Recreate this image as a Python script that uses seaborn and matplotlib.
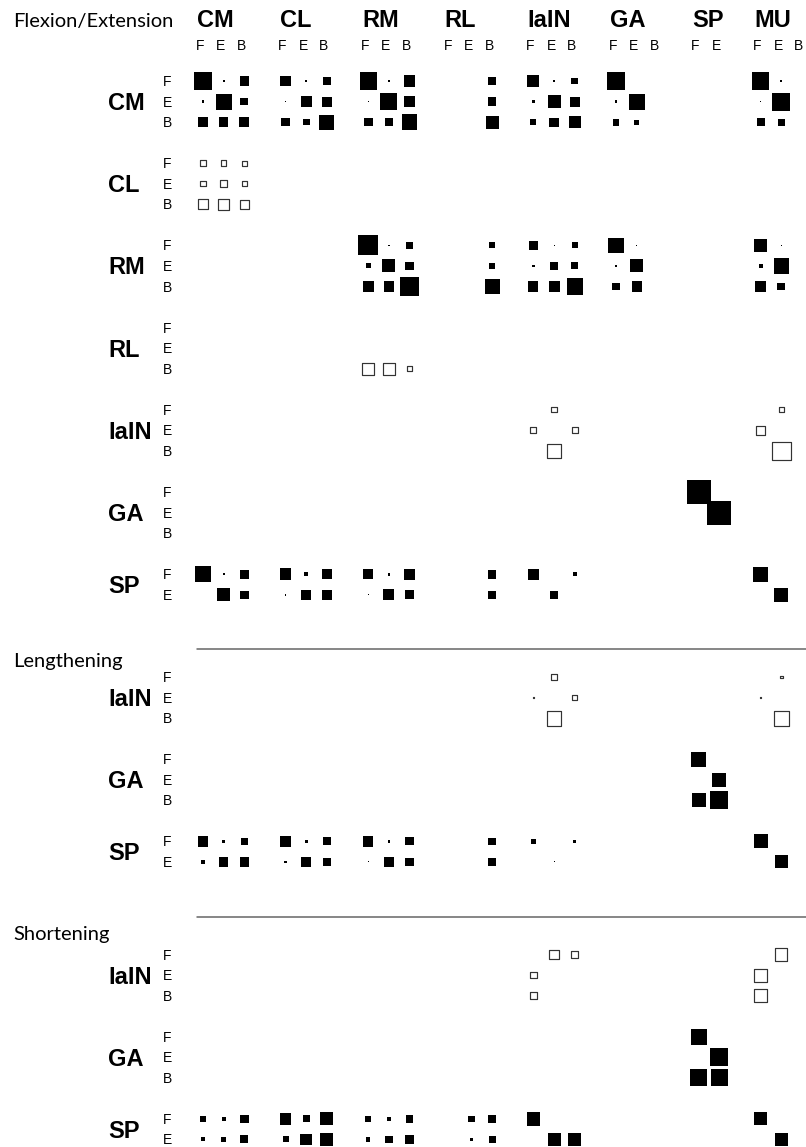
import pandas as pd
import matplotlib.pyplot as plt
import seaborn as sns

sns.set_theme(style="white")
plt.rcParams["text.color"] = "black"

# muscles along the top (targets) and their phase columns
muscles = ["CM", "CL", "RM", "RL", "IaIN", "GA", "SP", "MU"]
phases = {"CM": "FEB", "CL": "FEB", "RM": "FEB", "RL": "FEB",
          "IaIN": "FEB", "GA": "FEB", "SP": "FE", "MU": "FEB"}

# weights: >0 filled square, <0 open square; rows = source phase, cols = target phase
flex_CM = {
    "CM": [[.72, .08, .39], [.12, .67, .32], [.45, .39, .43]],
    "CL": [[.45, .08, .35], [.07, .46, .42], [.35, .28, .63]],
    "RM": [[.72, .07, .47], [.04, .70, .47], [.36, .35, .64]],
    "RL": [[0, 0, .36], [0, 0, .36], [0, 0, .54]],
    "IaIN": [[.50, .08, .28], [.12, .54, .42], [.25, .38, .50]],
    "GA": [[.75, .04, 0], [.12, .67, 0], [.29, .21, 0]],
    "MU": [[.71, .08, 0], [.04, .75, 0], [.33, .29, 0]],
}
flex_CL = {
    "CM": [[-.27, -.23, -.22], [-.22, -.29, -.22], [-.42, -.47, -.38]],
}
flex_RM = {
    "RM": [[.83, .07, .32], [.21, .54, .35], [.46, .42, .79]],
    "RL": [[0, 0, .25], [0, 0, .25], [0, 0, .63]],
    "IaIN": [[.38, .04, .25], [.12, .33, .29], [.42, .46, .67]],
    "GA": [[.63, .04, 0], [.12, .54, 0], [.33, .42, 0]],
    "MU": [[.54, .04, 0], [.17, .63, 0], [.46, .33, 0]],
}
flex_RL = {
    "RM": [[0, 0, 0], [0, 0, 0], [-.50, -.50, -.21]],
}
flex_IaIN = {
    "IaIN": [[0, -.22, 0], [-.25, 0, -.25], [0, -.57, 0]],
    "MU": [[0, -.21, 0], [-.38, 0, 0], [0, -.78, 0]],
}
flex_GA = {
    "SP": [[1.0, 0], [0, 1.0], [0, 0]],
}
flex_SP = {
    "CM": [[.68, .08, .38], [.04, .54, .35]],
    "CL": [[.49, .15, .42], [.07, .43, .42]],
    "RM": [[.43, .11, .45], [.04, .45, .38]],
    "RL": [[0, 0, .36], [0, 0, .33]],
    "IaIN": [[.46, 0, .17], [0, .33, 0]],
    "MU": [[.63, 0, 0], [0, .58, 0]],
}

len_IaIN = {
    "IaIN": [[0, -.24, 0], [-.05, 0, -.19], [0, -.62, 0]],
    "MU": [[0, -.12, 0], [-.05, 0, 0], [0, -.62, 0]],
}
len_GA = {
    "SP": [[.63, 0], [0, .58], [.58, .75]],
}
len_SP = {
    "CM": [[.43, .12, .27], [.17, .39, .39]],
    "CL": [[.43, .12, .34], [.11, .43, .34]],
    "RM": [[.43, .10, .34], [.04, .43, .34]],
    "RL": [[0, 0, .32], [0, 0, .32]],
    "IaIN": [[.21, 0, .11], [0, .04, 0]],
    "MU": [[.58, 0, 0], [0, .54, 0]],
}

sho_IaIN = {
    "IaIN": [[0, -.38, -.29], [-.27, 0, 0], [-.29, 0, 0]],
    "MU": [[0, -.52, 0], [-.54, 0, 0], [-.52, 0, 0]],
}
sho_GA = {
    "SP": [[.67, 0], [0, .73], [.71, .71]],
}
sho_SP = {
    "CM": [[.23, .17, .35], [.17, .23, .33]],
    "CL": [[.48, .29, .54], [.25, .49, .54]],
    "RM": [[.25, .18, .31], [.19, .32, .35]],
    "RL": [[0, .27, .36], [0, .11, .29]],
    "IaIN": [[.56, 0, 0], [0, .54, .54]],
    "MU": [[.54, 0, 0], [0, .54, 0]],
}

sections = [
    ("Flexion/Extension", 81.0, [("CM", flex_CM), ("CL", flex_CL), ("RM", flex_RM),
                                 ("RL", flex_RL), ("IaIN", flex_IaIN), ("GA", flex_GA),
                                 ("SP", flex_SP)]),
    ("Lengthening", 677.0, [("IaIN", len_IaIN), ("GA", len_GA), ("SP", len_SP)]),
    ("Shortening", 954.5, [("IaIN", sho_IaIN), ("GA", sho_GA), ("SP", sho_SP)]),
]

# layout (pixels)
W, H = 806, 1147
X0, DX, DY = 203.0, 20.65, 20.55
MAX_SIDE = 24.0
BOLD = ["Liberation Sans", "DejaVu Sans"]
REG = ["Liberation Sans", "DejaVu Sans"]
TITLE = ["Lato", "DejaVu Sans"]

col_x = {}
i = 0
for m in muscles:
    for p in phases[m]:
        col_x[(m, p)] = X0 + DX * i
        i += 1
    i += 1

records = []
row_info = []
for title, y0, blocks in sections:
    j = 0
    for src, targets in blocks:
        ys = []
        for r, p in enumerate(phases[src]):
            y = y0 + DY * j
            ys.append((p, y))
            for tgt, mat in targets.items():
                for c, q in enumerate(phases[tgt]):
                    w = mat[r][c]
                    if w != 0:
                        side_pt = abs(w) * MAX_SIDE * 0.72
                        records.append({"x": col_x[(tgt, q)], "y": y,
                                        "area": side_pt ** 2,
                                        "kind": "exc" if w > 0 else "inh"})
            j += 1
        j += 1
        row_info.append((src, ys))

df = pd.DataFrame(records)
lo, hi = df["area"].min(), df["area"].max()

fig = plt.figure(figsize=(W / 100, H / 100), dpi=100)
ax = fig.add_axes([0, 0, 1, 1])

sns.scatterplot(data=df[df.kind == "exc"], x="x", y="y", size="area",
                sizes=(lo, hi), size_norm=(lo, hi), marker="s", color="black",
                linewidth=0, legend=False, ax=ax)
sns.scatterplot(data=df[df.kind == "inh"], x="x", y="y", size="area",
                sizes=(lo, hi), size_norm=(lo, hi), marker="s", facecolor="white",
                edgecolor="#333333", linewidth=0.85, legend=False, ax=ax)

# column headers
for m in muscles:
    fx = col_x[(m, phases[m][0])]
    ax.text(fx - 6, 27, m, family=BOLD, fontsize=17, fontweight="bold",
            ha="left", va="baseline")
    for p in phases[m]:
        ax.text(col_x[(m, p)] - 3, 50.5, p, family=REG, fontsize=10,
                ha="center", va="baseline")

# row labels
for src, ys in row_info:
    ymid = (ys[0][1] + ys[-1][1]) / 2
    ax.text(108, ymid + 8.5, src, family=BOLD, fontsize=17, fontweight="bold",
            ha="left", va="baseline")
    for p, y in ys:
        ax.text(163, y + 5, p, family=REG, fontsize=10, ha="left", va="baseline")

# section titles and separators
ax.text(13, 27, "Flexion/Extension", family=TITLE, fontsize=14.5,
        ha="left", va="baseline")
ax.text(13, 667, "Lengthening", family=TITLE, fontsize=14.5, ha="left", va="baseline")
ax.text(13, 940, "Shortening", family=TITLE, fontsize=14.5, ha="left", va="baseline")
ax.plot([197, W], [649, 649], color="#666666", lw=1.1)
ax.plot([197, W], [917, 917], color="#666666", lw=1.1)

ax.set_xlim(0, W)
ax.set_ylim(H, 0)
ax.axis("off")

fig.savefig("out.png", dpi=100)
